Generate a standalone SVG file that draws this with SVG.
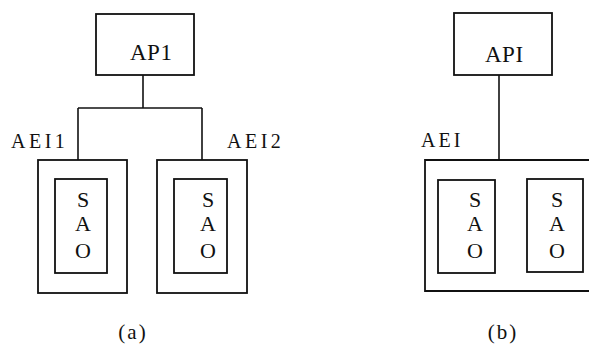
<svg xmlns="http://www.w3.org/2000/svg" width="589" height="347" viewBox="0 0 589 347">
<style>
rect{fill:none;stroke:#111;stroke-width:1.8}
.c line{stroke:#111;stroke-width:1.6}
text{font-family:"Liberation Serif","DejaVu Serif",serif;fill:#111}
.lbl{font-size:23px}
.sao{font-size:22px;text-anchor:middle}
.cap{font-size:21px;text-anchor:middle}
</style>
<rect x="0" y="0" width="589" height="347" style="fill:#fff;stroke:none"/>
<g class="c" id="connectors">
<line x1="143" y1="75" x2="143" y2="108"/>
<line x1="78" y1="108" x2="202" y2="108"/>
<line x1="78" y1="108" x2="78" y2="160"/>
<line x1="202" y1="108" x2="202" y2="160"/>
<line x1="499" y1="75" x2="499" y2="160"/>
</g>
<g id="ap1">
<rect x="96" y="14" width="98" height="61"/>
<text class="lbl" x="130" y="60" letter-spacing="0.5">AP1</text>
</g>
<g id="aei1">
<rect x="38" y="160" width="89" height="133"/>
<text class="lbl" x="11" y="148" style="font-size:20px" letter-spacing="3.5">AEI1</text>
</g>
<g id="sao1">
<rect x="55" y="179" width="52" height="94"/>
<text class="sao" x="83" y="207">S</text>
<text class="sao" x="83" y="231">A</text>
<text class="sao" x="83" y="258">O</text>
</g>
<g id="aei2">
<rect x="157" y="160" width="90" height="133"/>
<text class="lbl" x="227" y="148" style="font-size:20px" letter-spacing="3.5">AEI2</text>
</g>
<g id="sao2">
<rect x="174" y="179" width="53" height="94"/>
<text class="sao" x="208" y="207">S</text>
<text class="sao" x="208" y="231">A</text>
<text class="sao" x="208" y="258">O</text>
</g>
<g id="cap-a">
<text class="cap" x="133" y="339" letter-spacing="2">(a)</text>
</g>
<g id="api">
<rect x="454" y="13" width="98" height="62"/>
<text class="lbl" x="485" y="62" letter-spacing="0.5">API</text>
</g>
<g id="aei">
<path d="M600 160 H425 V291 H600" style="fill:none;stroke:#111;stroke-width:1.8"/>
<text class="lbl" x="421" y="147" style="font-size:20px" letter-spacing="3">AEI</text>
</g>
<g id="sao3">
<rect x="438" y="180" width="57" height="93"/>
<text class="sao" x="475" y="207">S</text>
<text class="sao" x="475" y="231">A</text>
<text class="sao" x="475" y="258">O</text>
</g>
<g id="sao4">
<rect x="527" y="179" width="56" height="93"/>
<text class="sao" x="557" y="207">S</text>
<text class="sao" x="557" y="231">A</text>
<text class="sao" x="557" y="258">O</text>
</g>
<g id="cap-b">
<text class="cap" x="503" y="339" letter-spacing="2">(b)</text>
</g>
</svg>
